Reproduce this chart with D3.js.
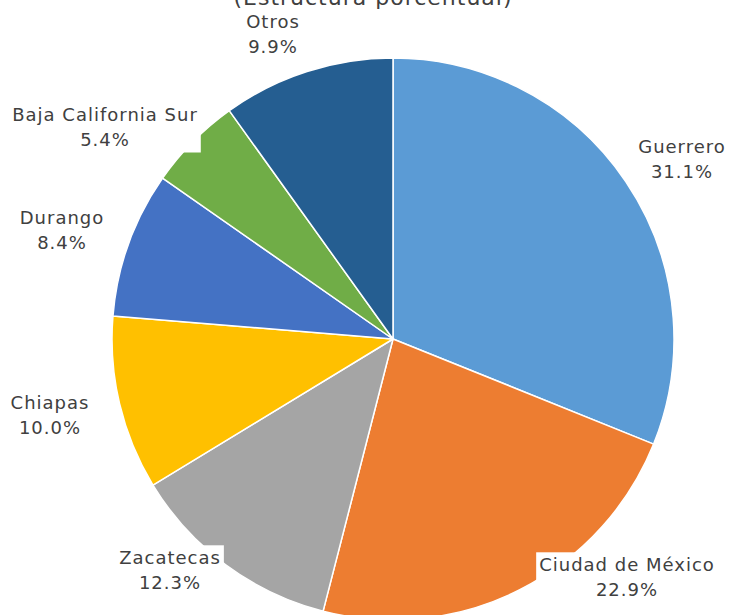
<!DOCTYPE html>
<html>
<head>
<meta charset="utf-8">
<script src="https://cdn.jsdelivr.net/npm/d3@7"></script>
<style>
  body { margin: 0; background: #fff; }
  svg text { font-family: "DejaVu Sans", sans-serif; fill: #404040; }
</style>
</head>
<body>
<svg id="chart" width="735" height="615"></svg>
<script>
const states = ["Guerrero", "Ciudad de México", "Zacatecas", "Chiapas", "Durango", "Baja California Sur", "Otros"];
const shares = [31.1, 22.9, 12.3, 10.0, 8.4, 5.4, 9.9];
const colors = ["#5b9bd5", "#ed7d31", "#a5a5a5", "#ffc000", "#4472c4", "#70ad47", "#255e91"];
const title = "(Estructura porcentual)";

// label centres
const labelPos = [[682, 147], [627, 565], [170, 558], [50, 403], [62, 218], [105, 115], [273, 22]];

const svg = d3.select("#chart");
const width = 735, height = 615;
const cx = 393, cy = 339, radius = 281;

const color = d3.scaleOrdinal().domain(states).range(colors);
const pie = d3.pie().sort(null).value(d => d.value);
const arc = d3.arc().innerRadius(0).outerRadius(radius);

const data = states.map((s, i) => ({ name: s, value: shares[i], pos: labelPos[i] }));

// title sits mostly above the top edge, as in the source image
svg.append("text")
    .attr("x", 373)
    .attr("y", 5)
    .attr("text-anchor", "middle")
    .style("font-size", "22px")
    .style("letter-spacing", "1px")
    .text(title);

const g = svg.append("g")
    .attr("transform", "translate(" + cx + "," + cy + ")");

g.selectAll("path")
  .data(pie(data))
  .enter().append("path")
    .attr("d", arc)
    .attr("fill", d => color(d.data.name))
    .attr("stroke", "#fff")
    .attr("stroke-width", 1.5)
    .attr("stroke-linejoin", "round");

const labels = svg.append("g").selectAll("g")
  .data(data)
  .enter().append("g")
    .attr("transform", d => "translate(" + d.pos[0] + "," + d.pos[1] + ")");

const txt = labels.append("text")
    .attr("text-anchor", "middle")
    .style("font-size", "18px")
    .style("letter-spacing", "1px");

txt.append("tspan")
    .attr("x", 0)
    .attr("dy", "0.35em")
    .text(d => d.name);

txt.append("tspan")
    .attr("x", 0)
    .attr("dy", "1.4em")
    .text(d => d.value.toFixed(1) + "%");

// white box behind each label, cuts into the pie like the original
labels.each(function() {
  const grp = d3.select(this);
  const bb = grp.select("text").node().getBBox();
  grp.insert("rect", "text")
      .attr("x", bb.x - 3)
      .attr("y", bb.y - 2)
      .attr("width", bb.width + 6)
      .attr("height", bb.height + 4)
      .attr("fill", "#fff");
});
</script>
</body>
</html>
